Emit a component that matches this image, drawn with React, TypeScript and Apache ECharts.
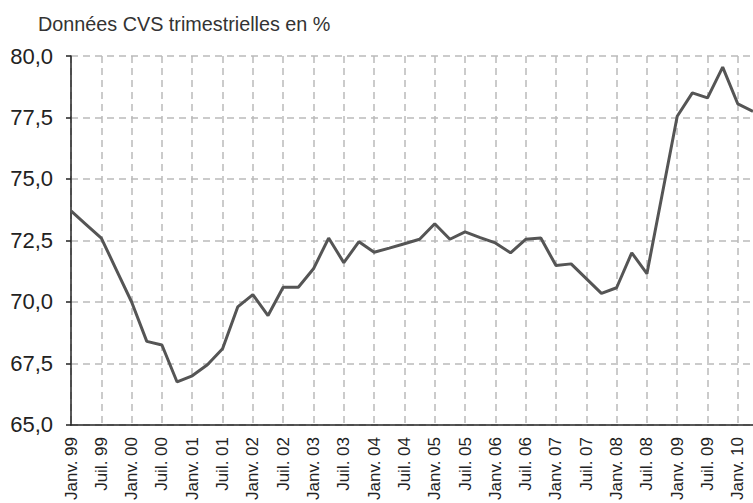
import React, { useEffect, useRef } from "react";
import * as echarts from "echarts";

const quarters: string[] = [];
const years = ["99", "00", "01", "02", "03", "04", "05", "06", "07", "08", "09", "10"];
const months = ["Janv.", "Avr.", "Juil.", "Oct."];
years.forEach((y) => months.forEach((m) => quarters.push(m + " " + y)));
const categories = quarters.slice(0, 46);

const values = [
  73.7, 73.15, 72.6, 71.3,
  70.0, 68.4, 68.25, 66.75,
  67.0, 67.45, 68.1, 69.8,
  70.3, 69.45, 70.6, 70.6,
  71.35, 72.6, 71.6, 72.45,
  72.02, 72.19, 72.37, 72.55,
  73.18, 72.55, 72.85, 72.62,
  72.4, 72.0, 72.55, 72.6,
  71.48, 71.55, 70.95, 70.35,
  70.58, 72.0, 71.15, 74.35,
  77.55, 78.5, 78.3, 79.55,
  78.05, 77.75,
];

const yTicks = { min: 65, max: 80, interval: 2.5 };
const titleText = "Données CVS trimestrielles en %";

export default function App() {
  const ref = useRef<HTMLDivElement>(null);
  useEffect(() => {
    if (!ref.current) return;
    const chart = echarts.init(ref.current, undefined, { renderer: "svg" });
    chart.setOption({
      animation: false,
      backgroundColor: "#ffffff",
      title: {
        text: titleText,
        left: 33,
        top: 9,
        textStyle: {
          fontFamily: "Liberation Sans",
          fontSize: 19.8,
          fontWeight: "normal",
          color: "#333",
        },
      },
      grid: { left: 71, right: -6, top: 56, height: 378, containLabel: false },
      xAxis: {
        type: "category",
        data: categories,
        boundaryGap: false,
        axisLine: { lineStyle: { color: "#222", width: 1.5 } },
        axisTick: { show: false, interval: 1 },
        axisLabel: {
          interval: 1,
          rotate: 90,
          margin: 12,
          fontFamily: "Liberation Sans",
          fontSize: 17,
          color: "#222",
        },
        splitLine: {
          show: true,
          interval: 1,
          lineStyle: { color: "#bbbbbb", type: [7, 5], width: 1.5 },
        },
      },
      yAxis: {
        type: "value",
        min: yTicks.min,
        max: yTicks.max,
        interval: yTicks.interval,
        axisLine: { show: true, lineStyle: { color: "#222", width: 1.5 } },
        axisTick: { show: true, length: 5, lineStyle: { color: "#222", width: 1.5 } },
        axisLabel: {
          margin: 18,
          fontFamily: "Liberation Sans",
          fontSize: 22,
          color: "#222",
          formatter: (v: number) => v.toFixed(1).replace(".", ","),
        },
        splitLine: {
          show: true,
          lineStyle: { color: "#bbbbbb", type: [7, 5], width: 1.5 },
        },
      },
      series: [
        {
          type: "line",
          data: values,
          symbol: "none",
          lineStyle: { color: "#555555", width: 3 },
        },
      ],
    });
    return () => chart.dispose();
  }, []);
  return (
    <div
      ref={ref}
      style={{ position: "fixed", left: 0, top: 0, width: 753, height: 503 }}
    />
  );
}
